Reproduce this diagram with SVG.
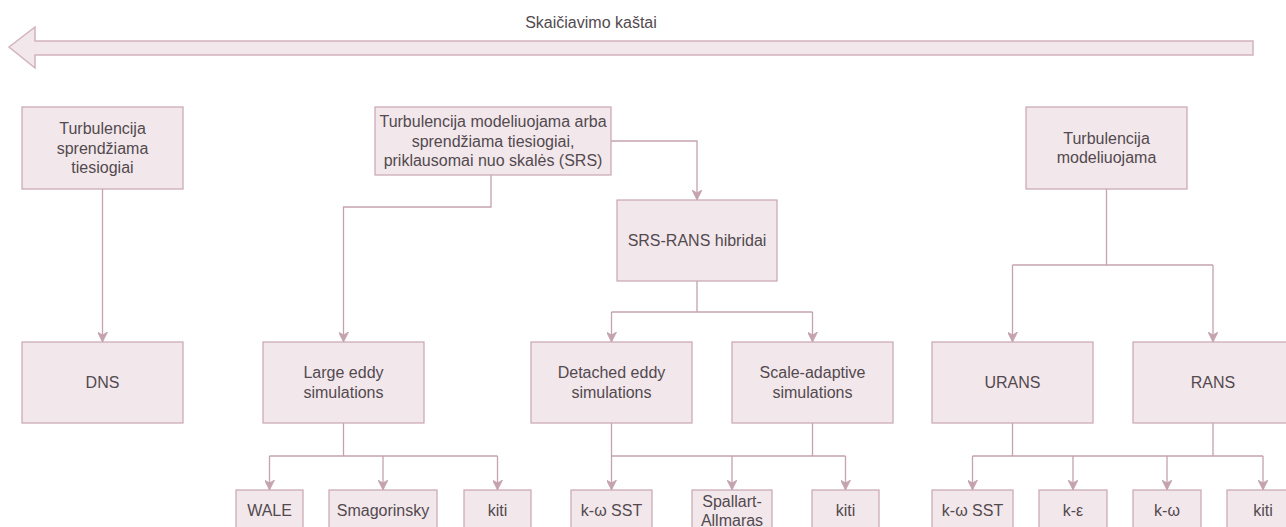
<svg xmlns="http://www.w3.org/2000/svg" width="1286" height="527" viewBox="0 0 1286 527">
  <defs>
    <style>
      .node rect { fill: #f2e7eb; stroke: #c8a6b2; stroke-width: 1.2; }
      .node text, .label { font-family: "Liberation Sans", Arial, sans-serif; font-size: 16px; fill: #534a4f; text-anchor: middle; }
      .edge { fill: none; stroke: #c4a2ae; stroke-width: 1.3; }
      .edge.arrow { marker-end: url(#head); }
      .bigarrow { fill: #f2e7eb; stroke: #d2b3be; stroke-width: 1.5; }
    </style>
    <marker id="head" viewBox="0 0 10 10" refX="10" refY="5" markerWidth="10" markerHeight="10" markerUnits="userSpaceOnUse" orient="auto">
      <path d="M0,0 L10,5 L0,10 L3,5 Z" fill="#c4a2ae" stroke="#c4a2ae" stroke-width="0.8"/>
    </marker>
  </defs>

  <!-- cost axis -->
  <g id="cost-axis">
    <polygon class="bigarrow" points="9,47 35,27 35,41 1253,41 1253,55 35,55 35,68"/>
    <text class="label" x="591" y="28">Skaičiavimo kaštai</text>
  </g>

  <!-- connectors -->
  <g id="connectors">
    <path class="edge arrow" d="M102.5,189 V342"/>
    <path class="edge arrow" d="M611,141 H697 V200"/>
    <path class="edge arrow" d="M491,175 V207 H343.5 V342"/>
    <path class="edge" d="M697,281 V312 M611.5,312 H812.5"/>
    <path class="edge arrow" d="M611.5,312 V342"/>
    <path class="edge arrow" d="M812.5,312 V342"/>
    <path class="edge" d="M1106.5,189 V265 M1012.5,265 H1213"/>
    <path class="edge arrow" d="M1012.5,265 V342"/>
    <path class="edge arrow" d="M1213,265 V342"/>

    <path class="edge" d="M343.5,423 V456 M269.5,456 H497.5"/>
    <path class="edge arrow" d="M269.5,456 V490"/>
    <path class="edge arrow" d="M383,456 V490"/>
    <path class="edge arrow" d="M497.5,456 V490"/>

    <path class="edge" d="M611.5,423 V456 M812.5,423 V456 M611.5,456 H845.5"/>
    <path class="edge arrow" d="M611.5,456 V490"/>
    <path class="edge arrow" d="M732,456 V490"/>
    <path class="edge arrow" d="M845.5,456 V490"/>

    <path class="edge" d="M1012.5,423 V456 M1213,423 V456 M972.5,456 H1263"/>
    <path class="edge arrow" d="M972.5,456 V490"/>
    <path class="edge arrow" d="M1073,456 V490"/>
    <path class="edge arrow" d="M1167,456 V490"/>
    <path class="edge arrow" d="M1263,456 V490"/>
  </g>

  <!-- top level -->
  <g id="direct" class="node">
    <rect x="22" y="107" width="161" height="82"/>
    <text x="102.5" y="134.3">Turbulencija</text>
    <text x="102.5" y="153.5">sprendžiama</text>
    <text x="102.5" y="172.7">tiesiogiai</text>
  </g>
  <g id="srs" class="node">
    <rect x="375" y="107" width="236" height="68"/>
    <text x="493" y="127.3">Turbulencija modeliuojama arba</text>
    <text x="493" y="146.5">sprendžiama tiesiogiai,</text>
    <text x="493" y="165.7">priklausomai nuo skalės (SRS)</text>
  </g>
  <g id="modelled" class="node">
    <rect x="1026" y="107" width="161" height="82"/>
    <text x="1106.5" y="143.9">Turbulencija</text>
    <text x="1106.5" y="163.1">modeliuojama</text>
  </g>
  <g id="hybrid" class="node">
    <rect x="617" y="200" width="160" height="81"/>
    <text x="697" y="246">SRS-RANS hibridai</text>
  </g>

  <!-- methods -->
  <g id="dns" class="node">
    <rect x="22" y="342" width="161" height="81"/>
    <text x="102.5" y="388">DNS</text>
  </g>
  <g id="les" class="node">
    <rect x="263" y="342" width="161" height="81"/>
    <text x="343.5" y="378.4">Large eddy</text>
    <text x="343.5" y="397.6">simulations</text>
  </g>
  <g id="des" class="node">
    <rect x="531" y="342" width="161" height="81"/>
    <text x="611.5" y="378.4">Detached eddy</text>
    <text x="611.5" y="397.6">simulations</text>
  </g>
  <g id="sas" class="node">
    <rect x="732" y="342" width="161" height="81"/>
    <text x="812.5" y="378.4">Scale-adaptive</text>
    <text x="812.5" y="397.6">simulations</text>
  </g>
  <g id="urans" class="node">
    <rect x="932" y="342" width="161" height="81"/>
    <text x="1012.5" y="388">URANS</text>
  </g>
  <g id="rans" class="node">
    <rect x="1133" y="342" width="160" height="81"/>
    <text x="1213" y="388">RANS</text>
  </g>

  <!-- models -->
  <g id="les-wale" class="node">
    <rect x="236" y="490" width="67" height="42"/>
    <text x="269.5" y="515.5">WALE</text>
  </g>
  <g id="les-smagorinsky" class="node">
    <rect x="329" y="490" width="108" height="42"/>
    <text x="383" y="515.5">Smagorinsky</text>
  </g>
  <g id="les-other" class="node">
    <rect x="464" y="490" width="67" height="42"/>
    <text x="497.5" y="515.5">kiti</text>
  </g>
  <g id="hyb-kw-sst" class="node">
    <rect x="571" y="490" width="81" height="42"/>
    <text x="611.5" y="515.5">k-ω SST</text>
  </g>
  <g id="hyb-sa" class="node">
    <rect x="692" y="490" width="80" height="42"/>
    <text x="732" y="507">Spallart-</text>
    <text x="732" y="525.5">Allmaras</text>
  </g>
  <g id="hyb-other" class="node">
    <rect x="812" y="490" width="67" height="42"/>
    <text x="845.5" y="515.5">kiti</text>
  </g>
  <g id="rans-kw-sst" class="node">
    <rect x="932" y="490" width="81" height="42"/>
    <text x="972.5" y="515.5">k-ω SST</text>
  </g>
  <g id="rans-ke" class="node">
    <rect x="1039" y="490" width="68" height="42"/>
    <text x="1073" y="515.5">k-ε</text>
  </g>
  <g id="rans-kw" class="node">
    <rect x="1133" y="490" width="68" height="42"/>
    <text x="1167" y="515.5">k-ω</text>
  </g>
  <g id="rans-other" class="node">
    <rect x="1227" y="490" width="72" height="42"/>
    <text x="1263" y="515.5">kiti</text>
  </g>
</svg>
